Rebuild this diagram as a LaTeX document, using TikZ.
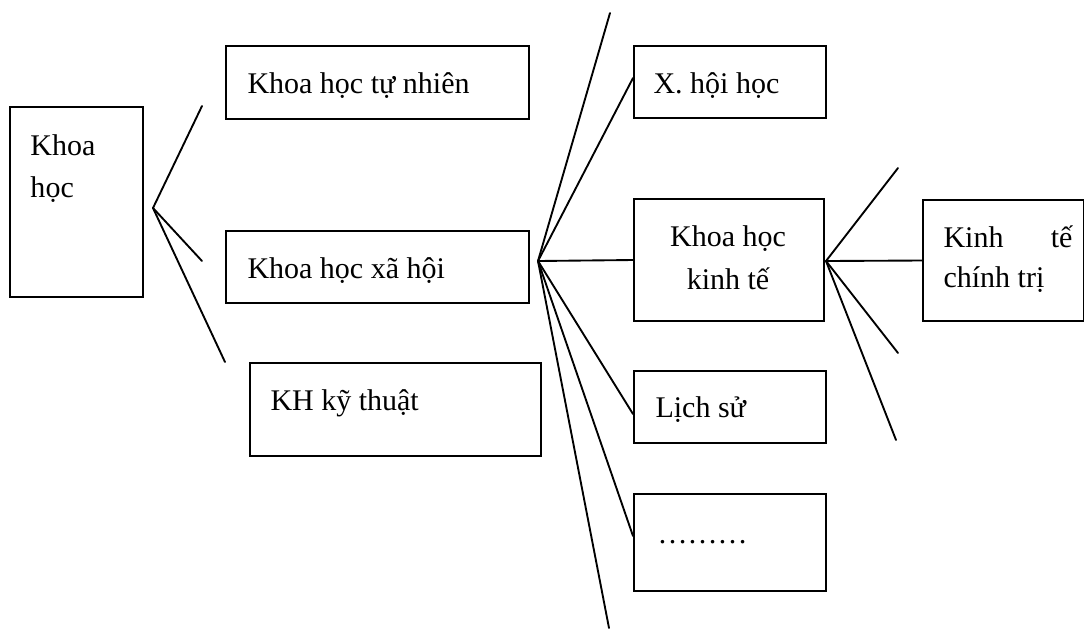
\documentclass[tikz,border=0pt]{standalone}
\usepackage{fontspec}
\setmainfont{Liberation Serif}
\usetikzlibrary{calc}
\tikzset{
  box/.style={draw, line width=0.8pt, inner sep=0pt, anchor=north west},
  lbl/.style={anchor=base west, inner sep=0pt, font=\fontsize{12}{16.8}\selectfont},
  clbl/.style={lbl, anchor=base},
  link/.style={line width=0.75pt, line cap=round}
}
\begin{document}
\begin{tikzpicture}[x=0.4pt, y=-0.4pt]
\useasboundingbox (0,0) rectangle (1084,628);

% boxes
\node[box, minimum width=53.2pt, minimum height=76pt]   (sci)  at (9,106)   {};
\node[box, minimum width=121.2pt, minimum height=29.2pt] (nat) at (225,45)  {};
\node[box, minimum width=121.2pt, minimum height=28.8pt] (soc) at (225,230) {};
\node[box, minimum width=116.4pt, minimum height=37.2pt] (eng) at (249,362) {};
\node[box, minimum width=76.8pt, minimum height=28.8pt]  (socio) at (633,45)  {};
\node[box, minimum width=76pt,   minimum height=48.8pt]  (econ)  at (633,198) {};
\node[box, minimum width=76.8pt, minimum height=28.8pt]  (hist)  at (633,370) {};
\node[box, minimum width=76.8pt, minimum height=38.8pt]  (etc)   at (633,493) {};
\node[box, minimum width=64.2pt, minimum height=48.4pt]  (pol)   at (922,199) {};

% labels
\node[lbl] (sci-a) at (30,155) {Khoa};
\node[lbl] (sci-b) at (30,197) {học};
\node[lbl] (nat-t) at (247,93) {Khoa học tự nhiên};
\node[lbl] (soc-t) at (247,278) {Khoa học xã hội};
\node[lbl] (eng-t) at (270,410) {KH kỹ thuật};
\node[lbl] (socio-t) at (653,93) {X. hội học};
\node[clbl] (econ-a) at (728,246) {Khoa học};
\node[clbl] (econ-b) at (728,289) {kinh tế};
\node[lbl] (hist-t) at (655,417) {Lịch sử};
\node[lbl] (etc-t) at (657,543) {………};
\node[lbl] (pol-a) at (943,247) {\makebox[51.6pt][s]{Kinh tế}};
\node[lbl] (pol-b) at (943,287) {chính trị};

% branching points and free line ends
\coordinate (h1) at (153,208);
\coordinate (h1a) at (202,106);
\coordinate (h1b) at (202,261);
\coordinate (h1c) at (225,362);

\coordinate (h2) at (538,261);
\coordinate (h2a) at (610,13);
\coordinate (h2z) at (609,628);

\coordinate (h3) at (826,261);
\coordinate (h3a) at (898,168);
\coordinate (h3b) at (898,353);
\coordinate (h3c) at (896,440);

% connectors
\draw[link] (h1) -- (h1a);
\draw[link] (h1) -- (h1b);
\draw[link] (h1) -- (h1c);

\draw[link] (h2) -- (h2a);
\draw[link] (h2) -- ([yshift=1.6pt]socio.west);
\draw[link] (h2) -- (econ.west);
\draw[link] (h2) -- ([yshift=-2.8pt]hist.west);
\draw[link] (h2) -- ([yshift=2.6pt]etc.west);
\draw[link] (h2) -- (h2z);

\draw[link] (h3) -- (h3a);
\draw[link] (h3) -- (pol.west);
\draw[link] (h3) -- (h3b);
\draw[link] (h3) -- (h3c);
\end{tikzpicture}
\end{document}
